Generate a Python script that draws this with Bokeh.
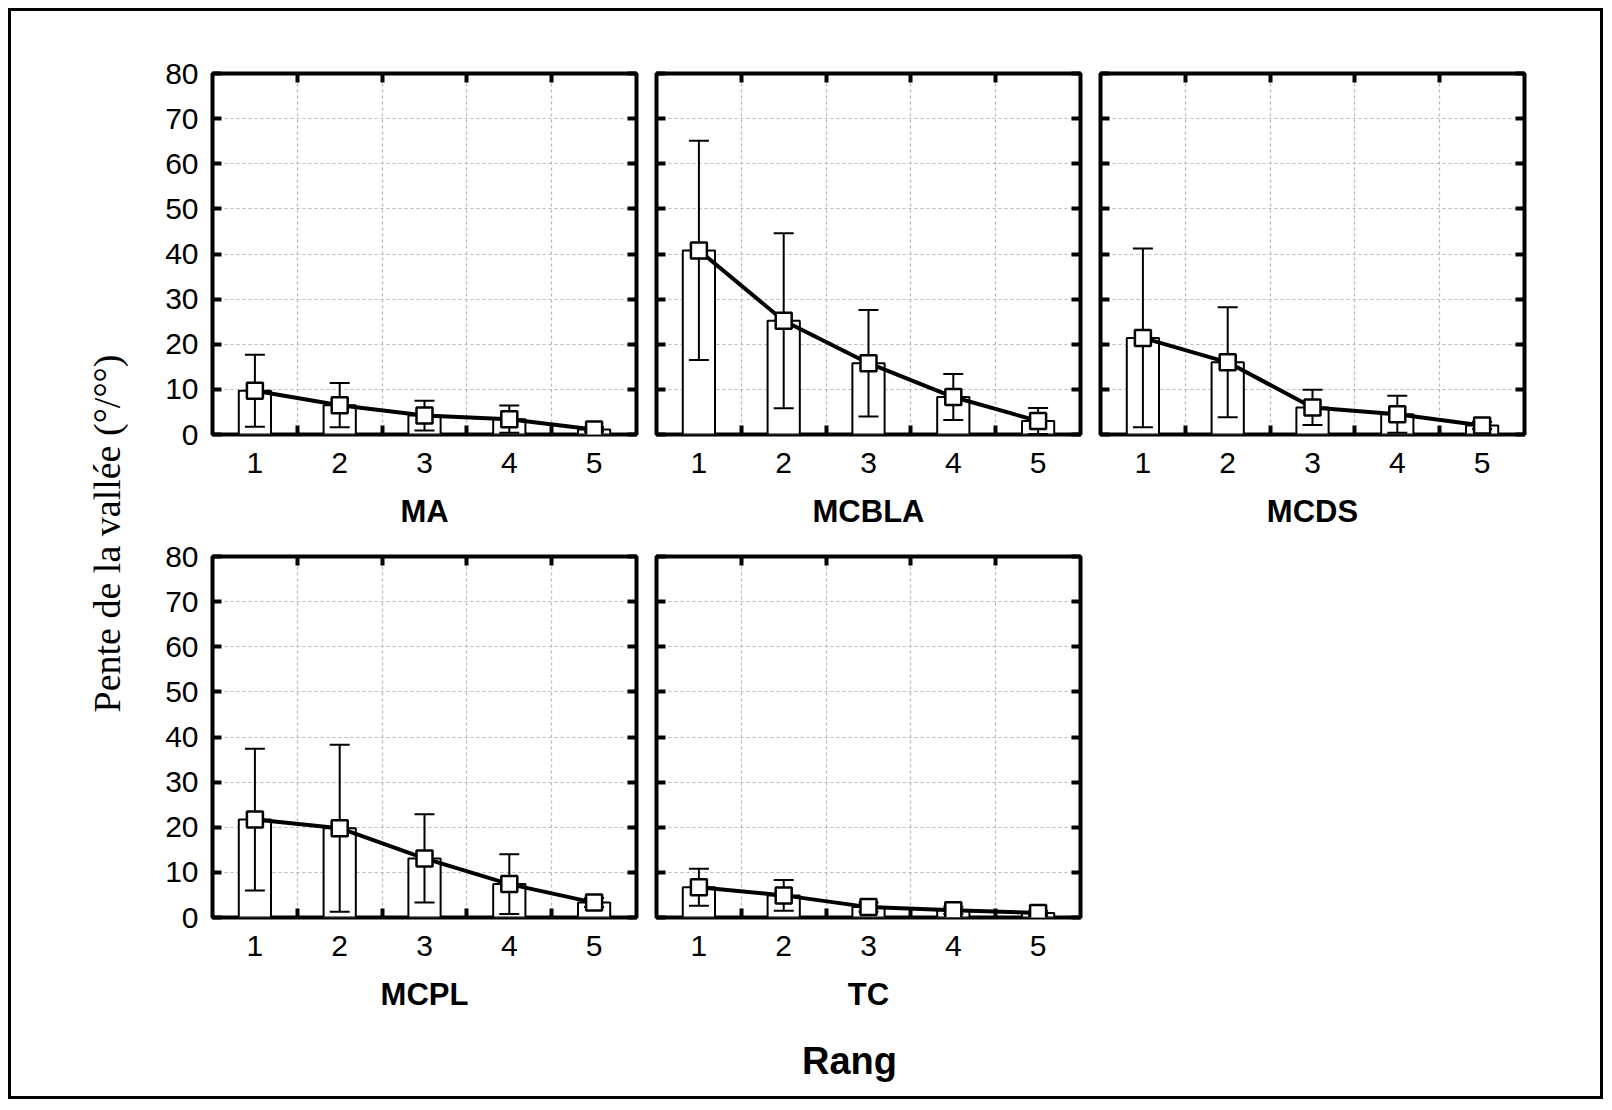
import math
from bokeh.plotting import figure
from bokeh.models import (Range1d, LinearAxis, FixedTicker, Grid, Label,
                          ColumnDataSource, CustomLabelingPolicy)
from bokeh.layouts import row, column
from bokeh.embed import file_html
from bokeh.resources import INLINE

# ---------------- data ----------------
ranks = [1, 2, 3, 4, 5]
y_ticks = [0, 10, 20, 30, 40, 50, 60, 70, 80]
panel_names = ["MA", "MCBLA", "MCDS", "MCPL", "TC"]

ma_mean = [9.7, 6.5, 4.2, 3.4, 1.1]
ma_err = [8.0, 4.9, 3.3, 3.0, 0.5]

mcbla_mean = [40.8, 25.2, 15.8, 8.3, 3.0]
mcbla_err = [24.3, 19.4, 11.8, 5.1, 2.9]

mcds_mean = [21.4, 16.0, 6.0, 4.5, 2.0]
mcds_err = [19.8, 12.2, 3.9, 4.1, 0.8]

mcpl_mean = [21.7, 19.8, 13.1, 7.4, 3.3]
mcpl_err = [15.7, 18.5, 9.8, 6.6, 1.0]

tc_mean = [6.7, 4.9, 2.3, 1.6, 1.0]
tc_err = [4.1, 3.4, 1.0, 0.8, 0.5]

y_title = "Pente de la vallée (°/°°)"
x_title = "Rang"

FONT = "Liberation Sans"
half_ticks = [r + 0.5 for r in ranks[:-1]]


def hide_labels(ax):
    ax.major_label_text_font_size = "1px"
    ax.major_label_standoff = 0
    ax.major_label_policy = CustomLabelingPolicy(code="return []")


def style_x_axis(ax, labels):
    ax.axis_line_color = None
    ax.major_tick_line_color = None
    ax.major_tick_in = 0
    ax.major_tick_out = 0
    ax.minor_tick_line_color = "black"
    ax.minor_tick_line_width = 4
    ax.minor_tick_in = 9
    ax.minor_tick_out = 0
    ax.major_label_text_font = FONT
    ax.major_label_text_color = "black"
    if labels:
        ax.major_label_text_font_size = "30px"
        ax.major_label_standoff = 18
    else:
        hide_labels(ax)


def style_y_axis(ax, labels):
    ax.axis_line_color = None
    ax.major_tick_line_color = "black"
    ax.major_tick_line_width = 4
    ax.major_tick_in = 9
    ax.major_tick_out = 0
    ax.minor_tick_line_color = None
    ax.minor_tick_in = 0
    ax.minor_tick_out = 0
    ax.major_label_text_font = FONT
    ax.major_label_text_color = "black"
    if labels:
        ax.major_label_text_font_size = "30px"
        ax.major_label_standoff = 14
    else:
        hide_labels(ax)


def make_panel(name, mean, err, ylabels, bl, br, bt, bb):
    p = figure(frame_width=424, frame_height=361,
               x_range=Range1d(0.5, 5.5), y_range=Range1d(0, 80),
               output_backend="svg", toolbar_location=None,
               x_axis_location=None, y_axis_location=None,
               min_border_left=bl, min_border_right=br,
               min_border_top=bt, min_border_bottom=bb,
               background_fill_color="white", border_fill_color="white")
    p.outline_line_color = "black"
    p.outline_line_width = 4
    p.outline_line_alpha = 1.0
    p.center = [c for c in p.center if not isinstance(c, Grid)]

    gx = Grid(dimension=0, ticker=FixedTicker(ticks=half_ticks))
    gy = Grid(dimension=1, ticker=FixedTicker(ticks=y_ticks[1:-1]))
    for g in (gx, gy):
        g.grid_line_color = "#b8b8b8"
        g.grid_line_dash = "3 3"
        g.grid_line_width = 1.2
        p.add_layout(g)

    bottom = LinearAxis(ticker=FixedTicker(ticks=ranks, minor_ticks=half_ticks))
    style_x_axis(bottom, True)
    bottom.axis_label = name
    bottom.axis_label_text_font = FONT
    bottom.axis_label_text_font_style = "bold"
    bottom.axis_label_text_font_size = "31px"
    bottom.axis_label_text_color = "black"
    bottom.axis_label_standoff = 18
    p.add_layout(bottom, "below")

    top = LinearAxis(ticker=FixedTicker(ticks=ranks, minor_ticks=half_ticks))
    style_x_axis(top, False)
    p.add_layout(top, "above")

    left = LinearAxis(ticker=FixedTicker(ticks=y_ticks))
    style_y_axis(left, ylabels)
    p.add_layout(left, "left")

    right = LinearAxis(ticker=FixedTicker(ticks=y_ticks))
    style_y_axis(right, False)
    p.add_layout(right, "right")

    src = ColumnDataSource(dict(
        x=ranks, mean=mean,
        lo=[m - e for m, e in zip(mean, err)],
        hi=[m + e for m, e in zip(mean, err)],
    ))
    p.vbar(x="x", top="mean", bottom=0, width=0.38, source=src,
           fill_color="white", line_color="black", line_width=2)
    p.segment(x0="x", y0="lo", x1="x", y1="hi", source=src,
              line_color="black", line_width=2)
    p.scatter(x="x", y="hi", marker="dash", size=20, source=src,
              line_color="black", line_width=2)
    p.scatter(x="x", y="lo", marker="dash", size=20, source=src,
              line_color="black", line_width=2)
    p.line(x="x", y="mean", source=src, line_color="black", line_width=4)
    p.scatter(x="x", y="mean", marker="square", size=16, source=src,
              fill_color="white", line_color="black", line_width=2.5)
    return p


ma = make_panel(panel_names[0], ma_mean, ma_err, True, 81, 10, 62, 102)
mcbla = make_panel(panel_names[1], mcbla_mean, mcbla_err, False, 10, 10, 62, 102)
mcds = make_panel(panel_names[2], mcds_mean, mcds_err, False, 10, 76, 62, 102)
mcpl = make_panel(panel_names[3], mcpl_mean, mcpl_err, True, 81, 10, 20, 110)
tc = make_panel(panel_names[4], tc_mean, tc_err, False, 10, 10, 20, 110)


def text_fig(w, h):
    f = figure(width=w, height=h, x_range=Range1d(0, w), y_range=Range1d(0, h),
               output_backend="svg", toolbar_location=None,
               x_axis_location=None, y_axis_location=None, min_border=0,
               background_fill_color="white", border_fill_color="white")
    f.outline_line_color = None
    f.grid.visible = False
    return f


ylab_fig = text_fig(120, 1085)
ylab_fig.add_layout(Label(x=95, y=563, text=y_title, angle=math.pi / 2,
                          text_align="center", text_baseline="middle",
                          text_font="Liberation Serif", text_font_size="38px",
                          text_color="black"))

rang_fig = text_fig(1468, 69)
rang_fig.add_layout(Label(x=718, y=36, text=x_title, text_align="center",
                          text_baseline="alphabetic", text_font=FONT,
                          text_font_style="bold", text_font_size="38px",
                          text_color="black"))

layout = row(ylab_fig,
             column(row(ma, mcbla, mcds), row(mcpl, tc), rang_fig),
             styles={"border": "3px solid black", "margin": "8px"})

open("out.html", "w").write(file_html(layout, INLINE))
